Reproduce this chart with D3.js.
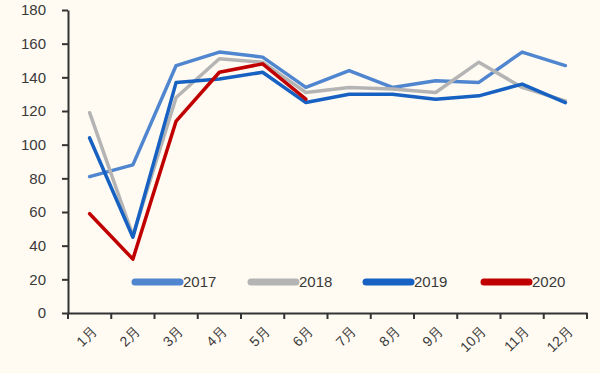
<!DOCTYPE html>
<html>
<head>
<meta charset="utf-8">
<script src="https://cdn.jsdelivr.net/npm/d3@7"></script>
<style>
  body { margin: 0; background: #fffbf2; }
  text { font-family: "Liberation Sans", Arial, sans-serif; }
</style>
</head>
<body>
<script>
var width = 600
var height = 373

var months = ["1月", "2月", "3月", "4月", "5月", "6月", "7月", "8月", "9月", "10月", "11月", "12月"]
var years = ["2017", "2018", "2019", "2020"]
var colors = ["#4f86cf", "#b4b4b4", "#1661c2", "#c00000"]

var v2017 = [81, 88, 147, 155, 152, 134, 144, 134, 138, 137, 155, 147]
var v2018 = [119, 46, 128, 151, 149, 131, 134, 133, 131, 149, 134, 126]
var v2019 = [104, 45, 137, 139, 143, 125, 130, 130, 127, 129, 136, 125]
var v2020 = [59, 32, 114, 143, 148, 127]
var series = [v2017, v2018, v2019, v2020]

var yTicks = [0, 20, 40, 60, 80, 100, 120, 140, 160, 180]

var svg = d3.select("body")
  .append("svg")
  .attr("width", width)
  .attr("height", height)

svg.append("rect").attr("width", width).attr("height", height).attr("fill", "#fffbf2")

var x = d3.scaleBand().domain(months).range([68, 587])
var y = d3.scaleLinear().domain([0, 180]).range([313, 10])

// y axis
var yAxis = svg.append("g")
  .attr("transform", "translate(68,0)")
  .call(d3.axisLeft(y).tickValues(yTicks).tickSize(6).tickSizeOuter(0))
yAxis.selectAll("text").attr("font-size", 15).attr("fill", "#3a3a3a").attr("x", -22)

// x axis
var xAxis = svg.append("g")
  .attr("transform", "translate(0,313)")
  .call(d3.axisBottom(x).tickSize(0).tickSizeOuter(0))
xAxis.selectAll(".tick line").remove()
xAxis.selectAll("text")
  .attr("font-size", 14)
  .attr("fill", "#3a3a3a")
  .attr("text-anchor", "end")
  .attr("dy", 0)
  .attr("transform", "translate(6,17) rotate(-45)")

// x tick marks at band edges
var edges = months.map(function(m) { return x(m) }).concat([x.range()[1]])
xAxis.selectAll(".edge")
  .data(edges)
  .enter()
  .append("line")
  .attr("x1", function(d) { return d }).attr("x2", function(d) { return d })
  .attr("y1", 0).attr("y2", 6)
  .attr("stroke", "#333")
  .attr("stroke-width", 2)

svg.selectAll(".domain").attr("stroke", "#333").attr("stroke-width", 2)
yAxis.selectAll(".tick line").attr("stroke", "#333").attr("stroke-width", 2)

var line = d3.line()
  .x(function(d, i) { return x(months[i]) + x.bandwidth() / 2 })
  .y(function(d) { return y(d) })

svg.selectAll(".series")
  .data(series)
  .enter()
  .append("path")
  .attr("d", line)
  .attr("fill", "none")
  .attr("stroke", function(d, i) { return colors[i] })
  .attr("stroke-width", 3.5)
  .attr("stroke-linejoin", "round")
  .attr("stroke-linecap", "round")

// legend
var legendX = [133, 249, 364, 482]
var legend = svg.selectAll(".legend")
  .data(years)
  .enter()
  .append("g")
  .attr("transform", function(d, i) { return "translate(" + legendX[i] + ",282)" })
legend.append("line")
  .attr("x1", 2).attr("x2", 47)
  .attr("stroke", function(d, i) { return colors[i] })
  .attr("stroke-width", 7)
  .attr("stroke-linecap", "round")
legend.append("text")
  .attr("x", 50)
  .attr("dy", "0.36em")
  .attr("font-size", 15)
  .attr("fill", "#3a3a3a")
  .text(function(d) { return d })
</script>
</body>
</html>
